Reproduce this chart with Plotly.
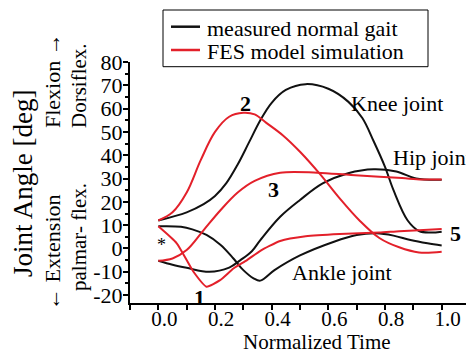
import plotly.graph_objects as go

# ---- data ----
knee_meas_x = [0, 0.1, 0.16, 0.2, 0.24, 0.28, 0.32, 0.36, 0.40, 0.45, 0.52, 0.60, 0.67, 0.72, 0.76, 0.80, 0.83, 0.88, 0.92, 0.96, 1.0]
knee_meas_y = [12, 15.5, 19, 22.5, 28, 36, 45.5, 55, 62.5, 68, 70.5, 68.5, 63, 56, 46, 35, 25, 12, 7.5, 6.8, 7.2]

knee_fes_x = [0, 0.05, 0.1, 0.15, 0.2, 0.25, 0.3, 0.34, 0.38, 0.44, 0.5, 0.57, 0.64, 0.71, 0.78, 0.85, 0.92, 1.0]
knee_fes_y = [12, 15.5, 24, 38, 50, 56.5, 58.2, 57.5, 54, 48.5, 41.5, 32, 21.5, 12, 4.5, 0.5, -1.7, -1.4]

hip_meas_x = [0, 0.05, 0.1, 0.18, 0.25, 0.29, 0.33, 0.36, 0.43, 0.5, 0.58, 0.67, 0.76, 0.84, 0.91, 1.0]
hip_meas_y = [-5.3, -7, -8.3, -10, -8.2, -5, -1.2, 3.6, 13.6, 20.8, 27.9, 32.3, 34, 33, 30, 29.5]

hip_fes_x = [0, 0.05, 0.1, 0.16, 0.22, 0.28, 0.34, 0.43, 0.56, 0.68, 0.78, 0.86, 0.93, 1.0]
hip_fes_y = [-5.3, -4.3, -0.7, 7.9, 16.5, 24, 29, 32.5, 32.5, 31.5, 30.8, 30.2, 29.6, 29.6]

ankle_meas_x = [0, 0.08, 0.12, 0.17, 0.22, 0.265, 0.3, 0.336, 0.36, 0.41, 0.5, 0.62, 0.7, 0.77, 0.83, 0.89, 0.95, 1.0]
ankle_meas_y = [9.5, 9.3, 8.2, 5.8, 1.5, -4.3, -9.3, -12.8, -13.8, -9.3, -3, 2.9, 5.75, 6.5, 5.5, 3.6, 2.2, 1.3]

ankle_fes_x = [0, 0.065, 0.124, 0.17, 0.218, 0.265, 0.313, 0.36, 0.43, 0.52, 0.64, 0.78, 0.85, 0.92, 1.0]
ankle_fes_y = [9.5, 2.2, -10, -16.4, -13.6, -8.6, -5, -1, 3.2, 5.2, 6.2, 6.8, 7.4, 7.8, 8.3]

x_tick_vals = [0.0, 0.2, 0.4, 0.6, 0.8, 1.0]
x_tick_text = ["0.0", "0.2", "0.4", "0.6", "0.8", "1.0"]
y_tick_vals = [-20, -10, 0, 10, 20, 30, 40, 50, 60, 70, 80]
y_tick_text = ["-20", "-10", "0", "10", "20", "30", "40", "50", "60", "70", "80"]

legend_names = ["measured normal gait", "FES model simulation"]

BLACK = "#111111"
RED = "#e3202a"
FONT = "'Liberation Serif', 'Times New Roman', Times, 'DejaVu Serif', serif"

fig = go.Figure()

def add(x, y, color, name, smooth=1.0):
    fig.add_trace(go.Scatter(
        x=x, y=y, mode="lines", name=name, showlegend=False,
        line=dict(color=color, width=2, shape="spline", smoothing=smooth),
    ))

add(knee_meas_x, knee_meas_y, BLACK, legend_names[0])
add(hip_meas_x, hip_meas_y, BLACK, legend_names[0])
add(ankle_meas_x, ankle_meas_y, BLACK, legend_names[0])
add(knee_fes_x, knee_fes_y, RED, legend_names[1])
add(hip_fes_x, hip_fes_y, RED, legend_names[1])
add(ankle_fes_x, ankle_fes_y, RED, legend_names[1], smooth=0.5)

# page body has an 8px margin; the figure is shrunk/shifted to compensate
OFF = 8
PAGE_W, PAGE_H = 474, 355
PL, PR, PT, PB = 130, 470, 62, 303  # plot area in page pixels
W, H = PAGE_W - OFF, PAGE_H - OFF
L, T = PL - OFF, PT - OFF
R, B = W - (PR - OFF), H - (PB - OFF)
PW, PH = PR - PL, PB - PT

def px(xp):
    return (xp - PL) / PW

def py(yp):
    return (PB - yp) / PH

ann = []
# curve labels
for txt, x, y, bold in [
    ("Knee joint", 0.844, 62.4, False),
    ("Hip joint", 0.967, 39.2, False),
    ("Ankle joint", 0.647, -10.1, False),
    ("2", 0.306, 62.4, True),
    ("3", 0.405, 25.1, True),
    ("1", 0.144, -20.9, True),
    ("5", 1.048, 6.6, True),
]:
    ann.append(dict(x=x, y=y, xref="x", yref="y", text=f"<b>{txt}</b>" if bold else txt,
                    showarrow=False, font=dict(family=FONT, size=22, color="black"),
                    xanchor="center", yanchor="middle"))
ann.append(dict(x=0.012, y=1.5, xref="x", yref="y", text="*", showarrow=False,
                font=dict(family=FONT, size=18, color="black"), xanchor="center", yanchor="middle"))

# axis titles
ann.append(dict(x=0.561, y=py(342), xref="x", yref="paper", text="Normalized Time",
                showarrow=False, font=dict(family=FONT, size=21, color="black"),
                xanchor="center", yanchor="middle"))
for txt, xp, yp, size in [
    ("Joint Angle [deg]", 23, 184, 27),
    ("Flexion \u2192", 52, 81, 22),
    ("\u2190 Extension", 52, 252, 22),
    ("Dorsiflex.", 79, 86, 21),
    ("palmar- flex.", 79, 237, 21),
]:
    ann.append(dict(x=px(xp), y=py(yp), xref="paper", yref="paper", text=txt,
                    textangle=-90, showarrow=False,
                    font=dict(family=FONT, size=size, color="black"),
                    xanchor="center", yanchor="middle"))

# legend box (drawn in page pixel positions)
shapes = [dict(type="rect", xref="paper", yref="paper", x0=px(163), x1=px(428),
               y0=py(66.7), y1=py(10), line=dict(color="black", width=1), fillcolor="white",
               layer="above")]
for name, color, ly in [(legend_names[0], BLACK, 26.7), (legend_names[1], RED, 50)]:
    shapes.append(dict(type="line", xref="paper", yref="paper", x0=px(171), x1=px(200),
                       y0=py(ly), y1=py(ly), line=dict(color=color, width=2.5), layer="above"))
    ann.append(dict(x=px(205), y=py(ly + 2), xref="paper", yref="paper", text=name,
                    showarrow=False, font=dict(family=FONT, size=22, color="black"),
                    xanchor="left", yanchor="middle"))

fig.update_layout(
    template="none",
    width=W, height=H,
    margin=dict(l=L, r=R, t=T, b=B, pad=0, autoexpand=False),
    paper_bgcolor="white", plot_bgcolor="white",
    font=dict(family=FONT, size=22, color="black"),
    annotations=ann,
    shapes=shapes,
    showlegend=False,
    xaxis=dict(range=[-0.1, 1.1], tickvals=x_tick_vals, ticktext=x_tick_text, automargin=False,
               showgrid=False, zeroline=False, showline=True, linecolor="black", linewidth=2,
               ticks="outside", ticklen=5, tickwidth=1.5, tickcolor="black",
               minor=dict(dtick=0.1, tick0=0, ticks="outside", ticklen=5, tickwidth=1.5, tickcolor="black"),
               tickfont=dict(family=FONT, size=21), ticklabelstandoff=-9, ticklabelshift=6),
    yaxis=dict(range=[-23.4, 80], tickvals=y_tick_vals, ticktext=y_tick_text, automargin=False,
               showgrid=False, zeroline=False, showline=True, linecolor="black", linewidth=2,
               ticks="outside", ticklen=5, tickwidth=1.5, tickcolor="black",
               minor=dict(dtick=5, tick0=0, ticks="outside", ticklen=3, tickwidth=1.5, tickcolor="black"),
               tickfont=dict(family=FONT, size=22), ticklabelstandoff=-4),
)

fig.write_html("out.html")
